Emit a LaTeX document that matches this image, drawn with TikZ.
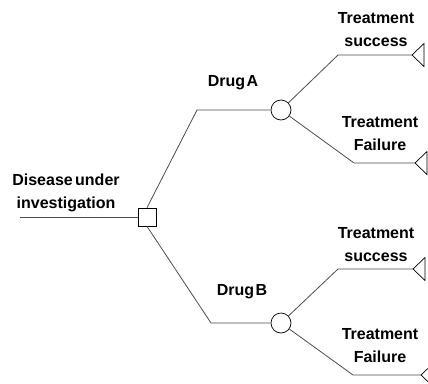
\documentclass[tikz,border=0pt]{standalone}
\usepackage{fontspec}
\setmainfont{Liberation Sans}
\begin{document}
\begin{tikzpicture}[x=1pt,y=1pt,
  conn/.style={draw=black!70, line width=0.8pt},
  decision/.style={draw=black, fill=white, line width=0.7pt, minimum size=18pt, inner sep=0pt},
  chance/.style={draw=black, fill=white, line width=0.7pt, circle, minimum size=20pt, inner sep=0pt},
  lbl/.style={font=\fontsize{16}{23}\selectfont\bfseries, align=center, inner sep=0pt},
  term/.style={draw=black, line width=0.7pt, fill=white}]
\clip (0,0) rectangle (428,-383);
% nodes
\coordinate (start) at (20,-217);
\node[decision] (sq) at (147,-217) {};
\coordinate (a1) at (197,-110);
\coordinate (b1) at (211,-323);
\node[chance] (cA) at (281,-110) {};
\node[chance] (cB) at (281,-323) {};
\coordinate (as) at (338,-55);
\coordinate (af) at (354,-163);
\coordinate (bs) at (338,-269);
\coordinate (bf) at (353,-375);
\coordinate (tas) at (412,-55);
\coordinate (taf) at (415,-163);
\coordinate (tbs) at (413,-269);
\coordinate (tbf) at (421,-375);
% connectors
\draw[conn] (start) -- (sq.west);
\draw[conn] (sq.north) -- (a1) -- (cA);
\draw[conn] (sq.south) -- (b1) -- (cB);
\draw[conn] (cA) -- (as) -- (tas);
\draw[conn] (cA) -- (af) -- (taf);
\draw[conn] (cB) -- (bs) -- (tbs);
\draw[conn] (cB) -- (bf) -- (tbf);
% terminal triangles
\foreach \t in {tas,taf,tbs,tbf}{
  \draw[term] (\t) -- ++(12,11.5) -- ++(0,-23) -- cycle;
}
% labels
\node[lbl] (l0) at (66,-193) {Disease\hspace{0.15em}under\\investigation};
\node[lbl] (lA) at (233,-83) {Drug\hspace{0.1em}A};
\node[lbl] (lB) at (242,-292) {Drug\hspace{0.1em}B};
\node[lbl] (l1) at (376,-29.5) {Treatment\\success};
\node[lbl] (l2) at (380,-133.5) {Treatment\\Failure};
\node[lbl] (l3) at (376,-245) {Treatment\\success};
\node[lbl] (l4) at (380,-346) {Treatment\\Failure};
\end{tikzpicture}
\end{document}
